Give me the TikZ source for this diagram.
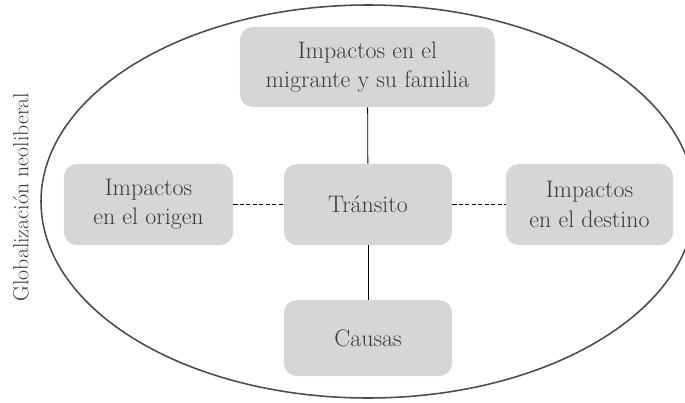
\documentclass[tikz,border=0pt]{standalone}
\definecolor{boxgray}{HTML}{D6D6D6}
\definecolor{txtgray}{HTML}{3A3A3A}
\definecolor{linegray}{HTML}{4A4A4A}
\tikzset{
    tema/.style={fill=boxgray, rounded corners=0.32cm, align=center, text=txtgray,
        font=\fontsize{17}{21}\selectfont, inner sep=0pt},
    enlace/.style={draw=black, line width=0.6pt},
}
\begin{document}
\begin{tikzpicture}[x=0.025cm, y=-0.025cm]
    \useasboundingbox (0,0) rectangle (685,402);
    \begin{scope}
        \clip (0,0) rectangle (685,402);
        \draw[linegray, line width=1.1pt] (368,201.5) ellipse [x radius=327, y radius=196.5];
    \end{scope}
    \node[rotate=90, text=txtgray, font=\fontsize{15.5}{18}\selectfont] (marco) at (21,197) {Globalización neoliberal};

    \node[tema, minimum width=6.375cm, minimum height=2cm] (familia) at (367.5,67) {Impactos en el\\migrante y su familia};
    \node[tema, minimum width=4.2cm, minimum height=2.025cm] (transito) at (368,204.5) {Tránsito};
    \node[tema, minimum width=4.225cm, minimum height=2.025cm] (origen) at (148.5,204.5) {Impactos\\en el origen};
    \node[tema, minimum width=4.175cm, minimum height=2.025cm] (destino) at (589.5,204.5) {Impactos\\en el destino};
    \node[tema, minimum width=4.2cm, minimum height=1.9cm] (causas) at (368,338) {Causas};

    \draw[enlace] (familia) -- (transito);
    \draw[enlace] (transito) -- (causas);
    \draw[enlace, dash pattern=on 3pt off 1.6pt] (origen) -- (transito);
    \draw[enlace, dash pattern=on 3pt off 1.6pt] (transito) -- (destino);
\end{tikzpicture}
\end{document}
